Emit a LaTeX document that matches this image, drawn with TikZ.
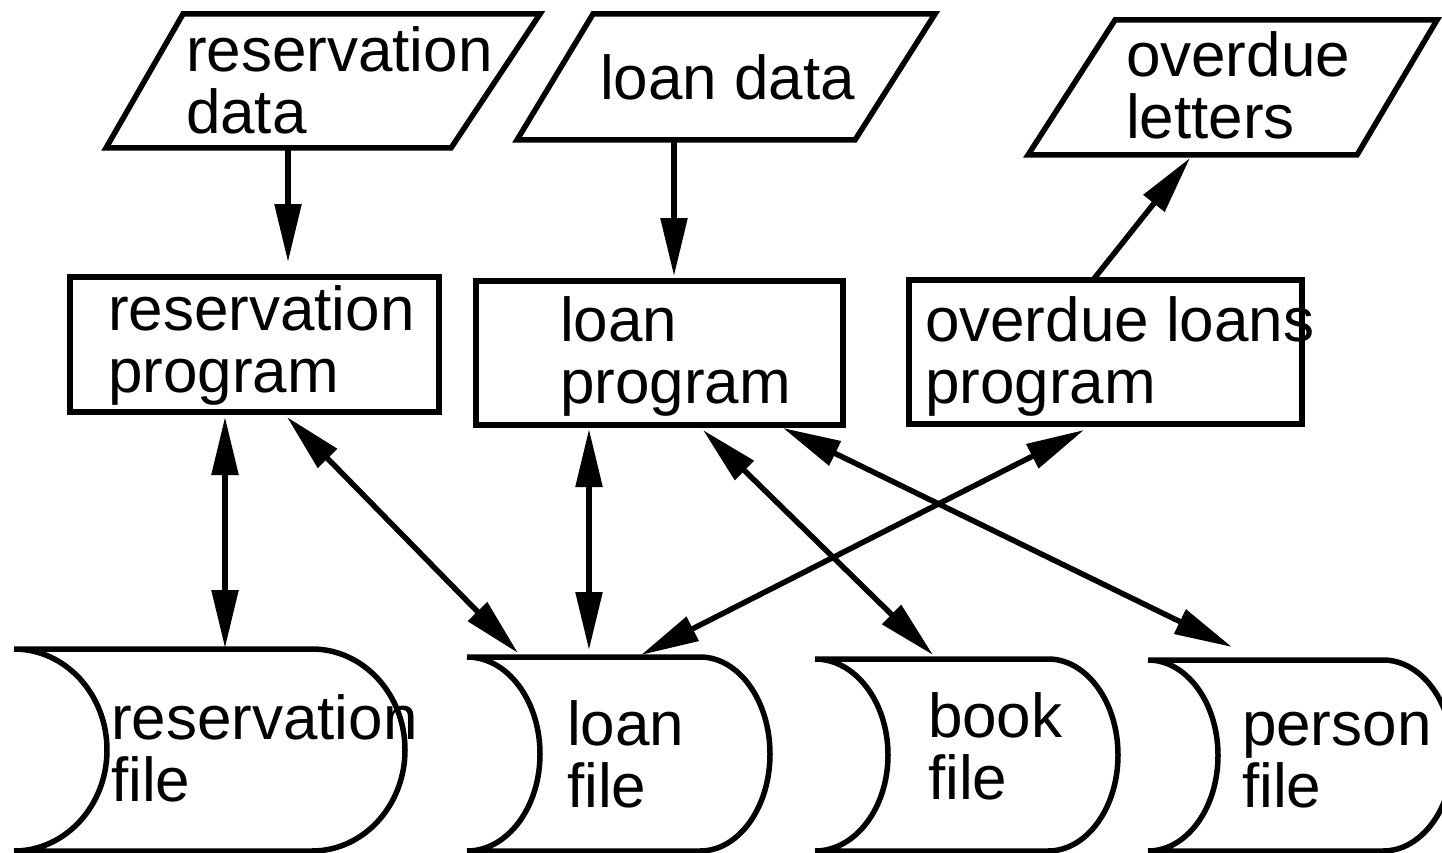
\documentclass[tikz,border=0pt]{standalone}
\usepackage{fontspec}
\setmainfont{Liberation Sans}
\usetikzlibrary{arrows.meta,calc}

% two stacked lines whose baseline is the first line's baseline
\newcommand\twolines[2]{\vtop{\hbox{#1}\hbox{#2}}}

% data store outline: concave left side, convex right side
% #1 node name, #2 left bulge, #3 right bulge
\newcommand\drawstore[3]{%
  \draw[outline] (#1.north west) -- (#1.north east)
    (#1.south west) -- (#1.south east)
    (#1.north west) .. controls ($(#1.north west)+(0.552*#2,0)$)
        and ($(#1.west)!0.552!(#1.north west)+(#2,0)$) .. ($(#1.west)+(#2,0)$)
      .. controls ($(#1.west)!0.552!(#1.south west)+(#2,0)$)
        and ($(#1.south west)+(0.552*#2,0)$) .. (#1.south west)
    (#1.north east) .. controls ($(#1.north east)+(0.552*#3,0)$)
        and ($(#1.east)!0.552!(#1.north east)+(#3,0)$) .. ($(#1.east)+(#3,0)$)
      .. controls ($(#1.east)!0.552!(#1.south east)+(#3,0)$)
        and ($(#1.south east)+(0.552*#3,0)$) .. (#1.south east);}

% input/output parallelogram inside the frame of node #1
% #2 inset of the top left corner, #3 inset of the bottom right corner
\newcommand\drawslant[3]{%
  \draw[outline] ($(#1.north west)+(#2,0)$) -- (#1.north east)
    -- ($(#1.south east)-(#3,0)$) -- (#1.south west) -- cycle;}

\tikzset{
  outline/.style={line width=5.5pt, line join=miter},
  frame/.style={draw=none, rectangle, inner sep=0pt, outer sep=0pt, anchor=north west},
  procbox/.style={draw, line width=6pt, rectangle, inner sep=0pt, outer sep=0pt, anchor=north west},
  txt/.style={anchor=base west, inner sep=0pt, outer sep=0pt, font=\fontsize{62pt}{62pt}\selectfont},
  tip/.tip={Triangle[length=58pt,width=26pt]},
  flow/.style={line width=5.5pt, -tip},
  both/.style={line width=5.5pt, tip-tip},
}

\begin{document}
\begin{tikzpicture}[x=1pt, y=-1pt]
\useasboundingbox (0,0) rectangle (1442,853);
\clip (0,0) rectangle (1442,853);

% input and output documents
\node[frame, minimum width=434pt, minimum height=134pt] (resdata) at (106,14) {};
\node[frame, minimum width=418pt, minimum height=126pt] (loandata) at (517,14) {};
\node[frame, minimum width=409pt, minimum height=135pt] (letters) at (1028,20) {};
\drawslant{resdata}{77}{89}
\drawslant{loandata}{76}{80}
\drawslant{letters}{87}{80}

% programs
\node[procbox, minimum width=369pt, minimum height=135pt] (resprog) at (70,277) {};
\node[procbox, minimum width=367pt, minimum height=144pt] (loanprog) at (476,281) {};
\node[procbox, minimum width=393pt, minimum height=144pt] (overprog) at (909,280) {};

% files
\node[frame, minimum width=298pt, minimum height=202pt] (resfile) at (14,649) {};
\node[frame, minimum width=233pt, minimum height=194pt] (loanfile) at (467,657) {};
\node[frame, minimum width=233pt, minimum height=192pt] (bookfile) at (815,659) {};
\node[frame, minimum width=235pt, minimum height=191pt] (personfile) at (1148,660) {};
\drawstore{resfile}{93}{93}
\drawstore{loanfile}{73}{70}
\drawstore{bookfile}{73}{70}
\drawstore{personfile}{70}{70}

% texts
\node[txt] (resdataT) at (186,72) {\twolines{reservation}{data}};
\node[txt] (loandataT) at (600,100) {loan data};
\node[txt] (lettersT) at (1126,77) {\twolines{overdue}{letters}};
\node[txt] (resprogT) at (108,330) {\twolines{reservation}{program}};
\node[txt] (loanprogT) at (560,341) {\twolines{loan}{program}};
\node[txt] (overprogT) at (925,341) {\twolines{overdue loans}{program}};
\node[txt] (resfileT) at (111,739) {\twolines{reservation}{file}};
\node[txt] (loanfileT) at (567,745) {\twolines{loan}{file}};
\node[txt] (bookfileT) at (928,737) {\twolines{book}{file}};
\node[txt] (personfileT) at (1242,745) {\twolines{person}{file}};

% data flows
\draw[flow] ([xshift=182pt]resdata.south west) -- ([xshift=218pt,yshift=15pt]resprog.north west);
\draw[flow] ([xshift=157pt]loandata.south west) -- ([xshift=198pt,yshift=5pt]loanprog.north west);
\draw[flow] ([xshift=184pt]overprog.north west) -- ([xshift=162pt,yshift=-3pt]letters.south west);

\draw[both] ([xshift=155pt,yshift=-5pt]resprog.south west) -- ([xshift=211pt,yshift=1pt]resfile.north west);
\draw[both] ([xshift=217pt,yshift=-5pt]resprog.south west) -- ([xshift=51pt,yshift=4pt]loanfile.north west);
\draw[both] ([xshift=113pt,yshift=-4pt]loanprog.south west) -- ([xshift=122pt,yshift=7pt]loanfile.north west);
\draw[both] ([xshift=227pt,yshift=-5pt]loanprog.south west) -- ([xshift=118pt,yshift=4pt]bookfile.north west);
\draw[both] ([xshift=307pt,yshift=-3pt]loanprog.south west) -- ([xshift=84pt,yshift=13pt]personfile.north west);
\draw[both] ([xshift=175pt,yshift=-6pt]overprog.south west) -- ([xshift=174pt,yshift=2pt]loanfile.north west);
\end{tikzpicture}
\end{document}
